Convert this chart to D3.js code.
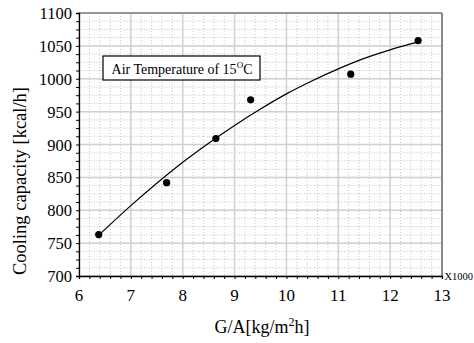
<!DOCTYPE html>
<html><head><meta charset="utf-8">
<script src="https://cdn.jsdelivr.net/npm/d3@7"></script>
<style>body{margin:0;background:#fff}svg{display:block}</style>
</head><body><svg id="c" width="474" height="343"></svg>
<script>
const gaValues = [6.38, 7.69, 8.64, 9.31, 11.24, 12.54];
const capacityValues = [763, 842, 909, 968, 1007, 1058];
const fitX = [6.38, 7, 7.5, 8, 8.5, 9, 9.5, 10, 10.5, 11, 11.5, 12, 12.54];
const fitY = [762, 807, 841, 873, 902, 929, 954, 977, 997, 1015, 1031, 1044, 1056];
const xTicks = [6, 7, 8, 9, 10, 11, 12, 13];
const yTicks = [700, 750, 800, 850, 900, 950, 1000, 1050, 1100];
const yLabel = "Cooling capacity [kcal/h]";
const annotation = "Air Temperature of 15";

const FONT = "'Liberation Serif'";
const svg = d3.select("#c");
const L = 79, R = 442, T = 13, B = 276;
const x = d3.scaleLinear().domain([6, 13]).range([L, R]);
const y = d3.scaleLinear().domain([700, 1100]).range([B, T]);

const minorX = d3.range(6, 13.001, 0.2);
const minorY = d3.range(700, 1100.001, 12.5);

// minor dotted grid
svg.append("g").selectAll("line").data(minorX).join("line")
  .attr("x1", d => x(d)).attr("x2", d => x(d)).attr("y1", T).attr("y2", B)
  .attr("stroke", "#b0b0b0").attr("stroke-width", 0.7).attr("stroke-dasharray", "1,2");
svg.append("g").selectAll("line").data(minorY).join("line")
  .attr("y1", d => y(d)).attr("y2", d => y(d)).attr("x1", L).attr("x2", R)
  .attr("stroke", "#b0b0b0").attr("stroke-width", 0.7).attr("stroke-dasharray", "1,1.5");
// major grid
svg.append("g").selectAll("line").data(xTicks).join("line")
  .attr("x1", d => x(d)).attr("x2", d => x(d)).attr("y1", T).attr("y2", B)
  .attr("stroke", "#d0d0d0").attr("stroke-width", 1.5);
svg.append("g").selectAll("line").data(yTicks).join("line")
  .attr("y1", d => y(d)).attr("y2", d => y(d)).attr("x1", L).attr("x2", R)
  .attr("stroke", "#d0d0d0").attr("stroke-width", 1.5);

// frame top/right
svg.append("line").attr("x1", L).attr("x2", R).attr("y1", T).attr("y2", T).attr("stroke", "#555").attr("stroke-width", 1.2);
svg.append("line").attr("x1", R).attr("x2", R).attr("y1", T).attr("y2", B).attr("stroke", "#555").attr("stroke-width", 1.2);

// axes
const xAxis = d3.axisBottom(x).tickValues(minorX).tickSize(3).tickFormat("");
const gx = svg.append("g").attr("transform", `translate(0,${B})`).call(xAxis);
gx.select(".domain").attr("stroke", "#000").attr("stroke-width", 1.3);
gx.selectAll(".tick line").attr("stroke", "#000");
svg.append("g").selectAll("text").data(xTicks).join("text")
  .style("font-family", FONT)
  .attr("x", d => x(d)).attr("y", 301).attr("text-anchor", "middle")
  .attr("font-size", 17).text(d => d);

const yAxis = d3.axisLeft(y).tickValues(minorY).tickSize(3).tickFormat("");
const gy = svg.append("g").attr("transform", `translate(${L},0)`).call(yAxis);
gy.select(".domain").attr("stroke", "#000").attr("stroke-width", 1.3);
gy.selectAll(".tick line").attr("stroke", "#000");
svg.append("g").selectAll("text").data(yTicks).join("text")
  .style("font-family", FONT)
  .attr("x", 72).attr("y", d => y(d) + 6).attr("text-anchor", "end")
  .attr("font-size", 16.5).text(d => d);

svg.append("text").style("font-family", FONT).attr("x", 444.5).attr("y", 279.5).attr("font-size", 10.5).text("X1000");

// fit curve
const line = d3.line().x((d, i) => x(fitX[i])).y(d => y(d)).curve(d3.curveMonotoneX);
svg.append("path").attr("d", line(fitY)).attr("fill", "none").attr("stroke", "#000").attr("stroke-width", 1.2);

// points
svg.append("g").selectAll("circle").data(capacityValues).join("circle")
  .attr("cx", (d, i) => x(gaValues[i])).attr("cy", d => y(d)).attr("r", 3.6).attr("fill", "#000");

// annotation box
svg.append("rect").attr("x", 103).attr("y", 56).attr("width", 157).attr("height", 24)
  .attr("fill", "#fff").attr("stroke", "#000").attr("stroke-width", 1.2);
const at = svg.append("text").style("font-family", FONT).attr("x", 182).attr("y", 74).attr("text-anchor", "middle").attr("font-size", 14);
at.append("tspan").text(annotation);
at.append("tspan").attr("dy", -6).attr("font-size", 9).text("O");
at.append("tspan").attr("dy", 6).text("C");

// axis titles
const xt = svg.append("text").style("font-family", FONT).attr("x", 262).attr("y", 333).attr("text-anchor", "middle").attr("font-size", 18);
xt.append("tspan").text("G/A[kg/m");
xt.append("tspan").attr("dy", -7).attr("font-size", 12).text("2");
xt.append("tspan").attr("dy", 7).text("h]");

svg.append("text").style("font-family", FONT).attr("transform", "translate(25.5,275) rotate(-90)").attr("text-anchor", "start")
  .attr("font-size", 18.5).text(yLabel);
</script></body></html>
